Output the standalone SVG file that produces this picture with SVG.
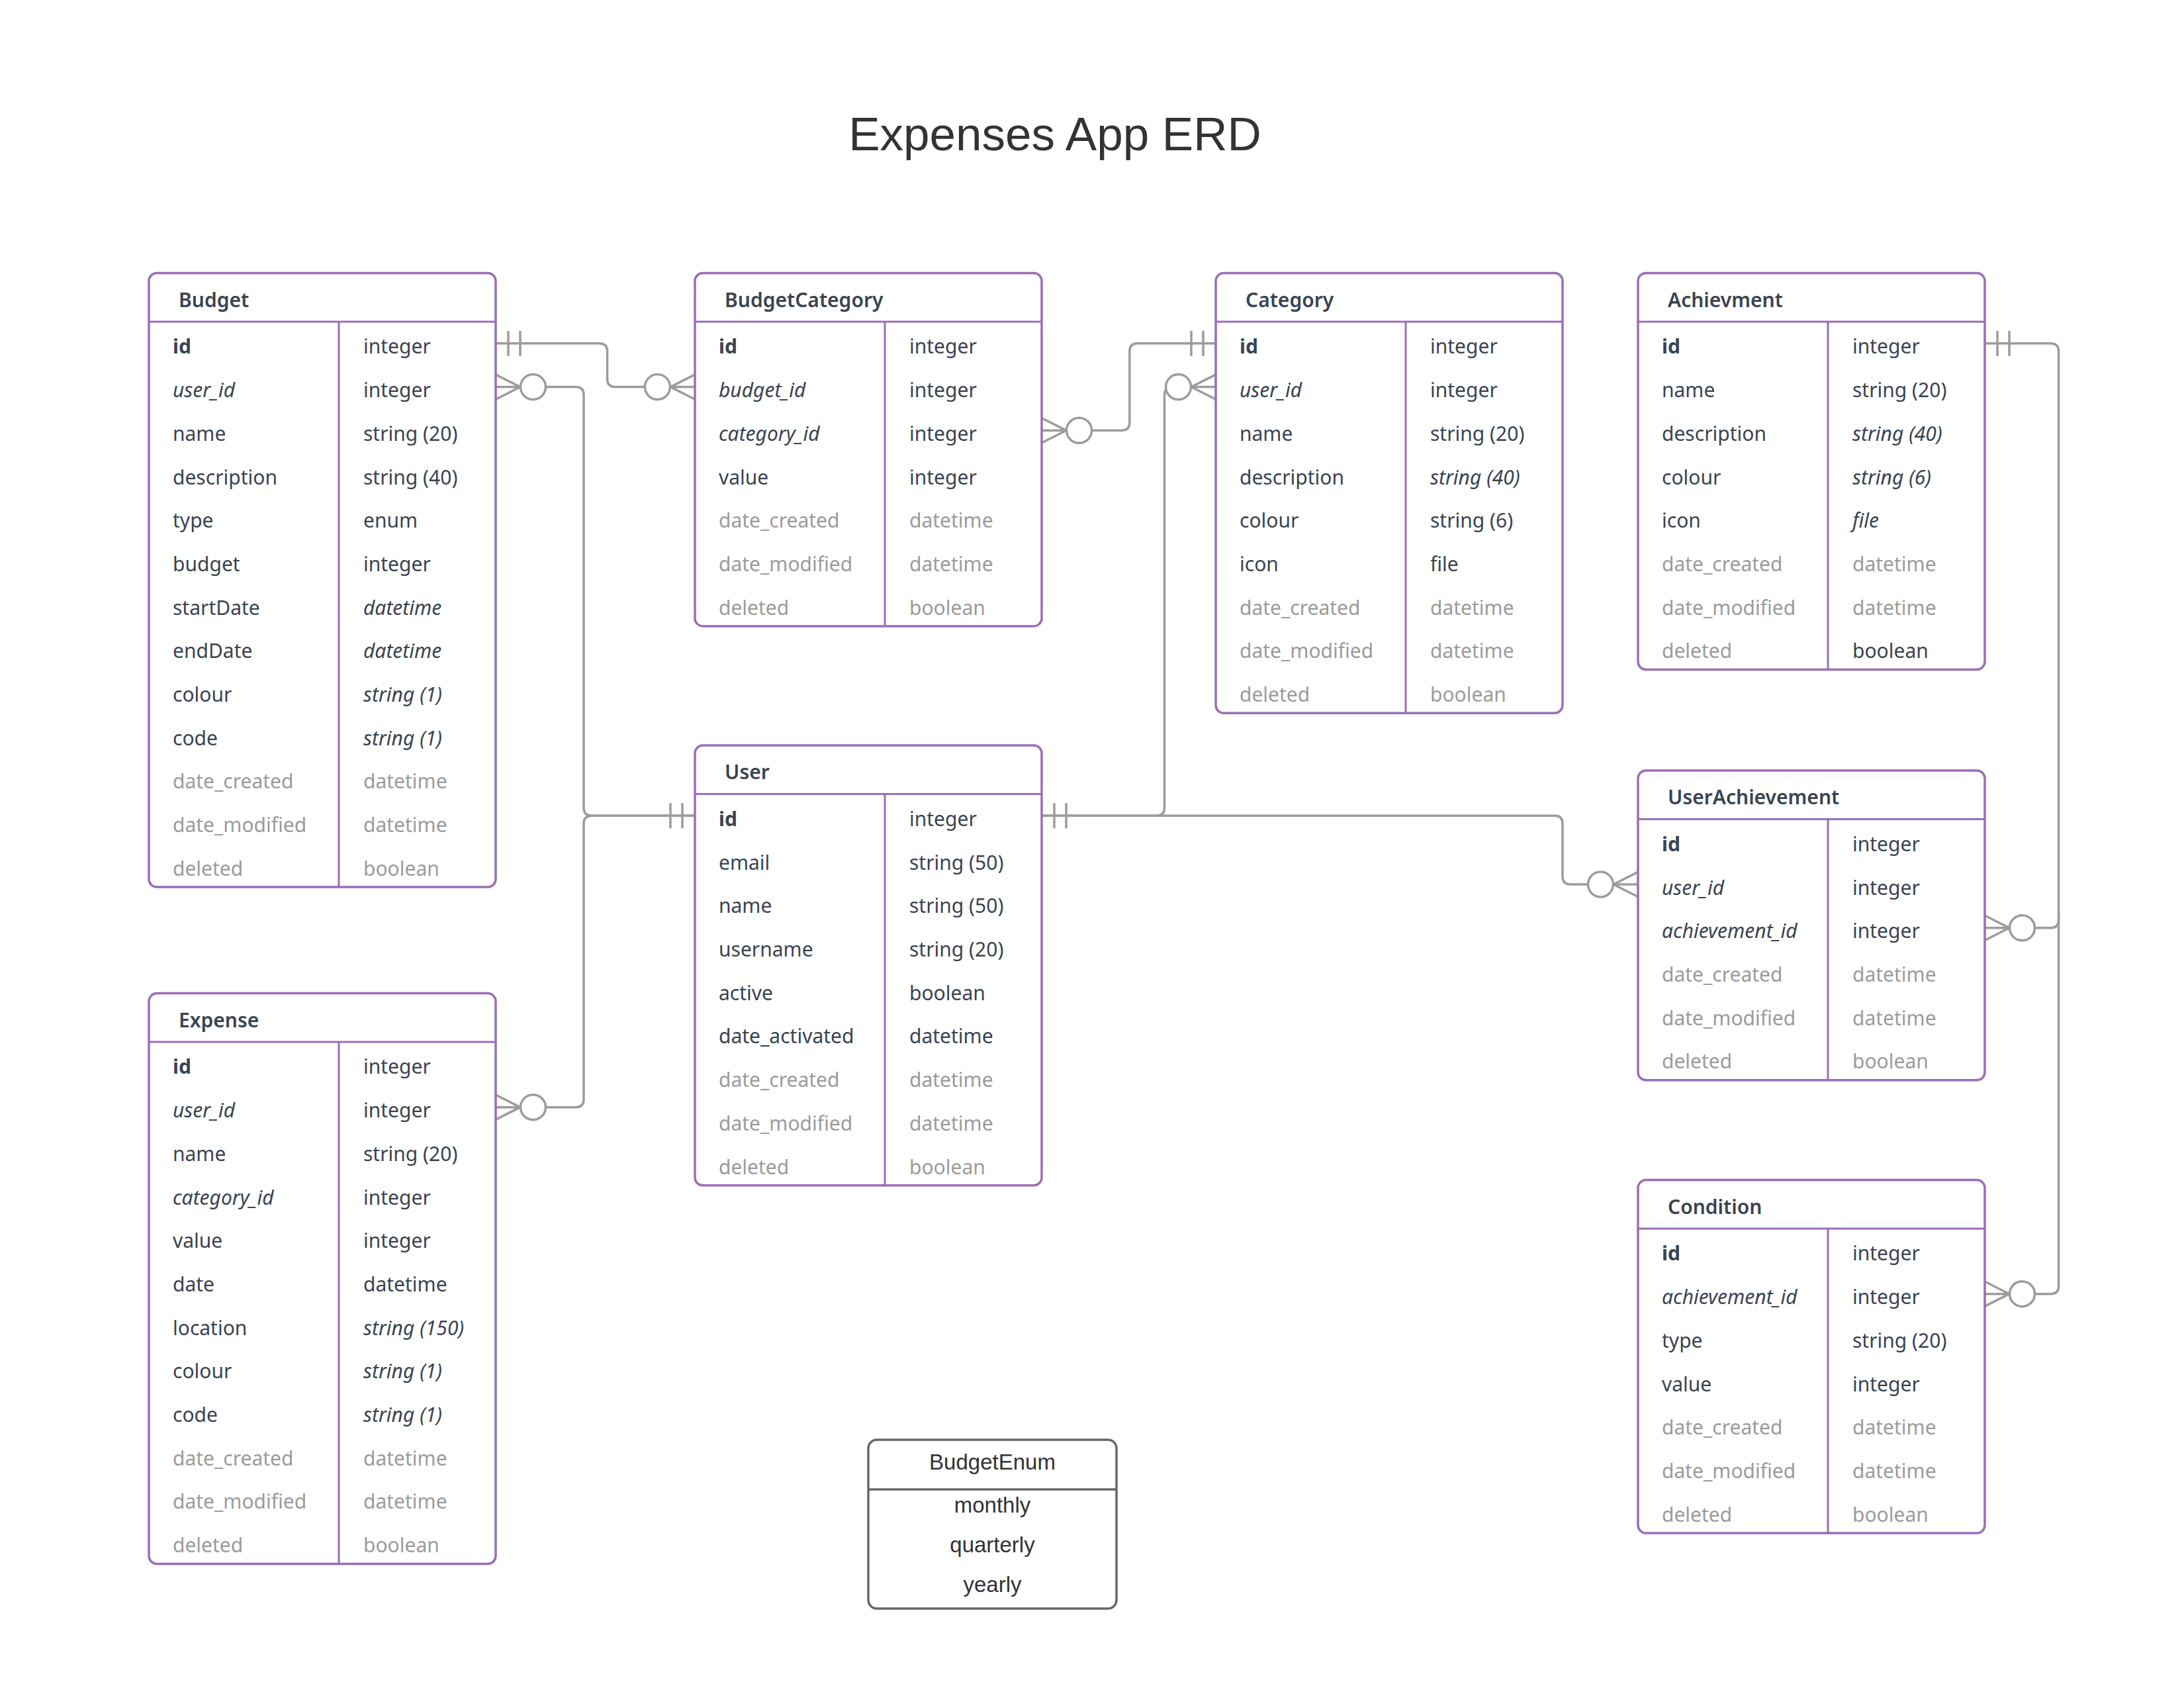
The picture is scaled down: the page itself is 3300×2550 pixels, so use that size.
<svg xmlns="http://www.w3.org/2000/svg" xmlns:xlink="http://www.w3.org/1999/xlink" width="3300" height="2550" viewBox="0 0 3300 2550">
  <style>
    .box { fill: #ffffff; stroke: #9a6eb6; stroke-width: 3.5; }
    .sep { stroke: #9a6eb6; stroke-width: 3; }
    .hd { font-family: "Noto Sans", "Open Sans", sans-serif; font-size: 30px; font-weight: 600; fill: #3a4350; }
    .f { font-family: "Noto Sans", "Open Sans", sans-serif; font-size: 30px; fill: #3a4350; }
    .b { font-weight: bold; }
    .i { font-style: italic; }
    .g { fill: #9b9b9b; }
    .conn { fill: none; stroke: #9c9c9c; stroke-width: 3.5; }
    .end { fill: #ffffff; stroke: #9c9c9c; stroke-width: 3.5; }
    .title { font-family: "Liberation Sans", Arial, sans-serif; font-size: 71px; fill: #333333; }
    .enum { fill: #ffffff; stroke: #686868; stroke-width: 3.5; }
    .et { font-family: "Liberation Sans", Arial, sans-serif; font-size: 33px; fill: #333333; }
  </style>
  <defs>
    <!-- crow's-foot ends, drawn for a box edge at x=0 with the line leaving towards +x -->
    <g id="one">
      <line class="end" x1="19" y1="-19" x2="19" y2="19"/>
      <line class="end" x1="37" y1="-19" x2="37" y2="19"/>
    </g>
    <g id="zeroMany">
      <path class="end" d="M0,-18.7 L37,0 L0,18.7 M0,0 H37"/>
      <circle class="end" cx="56.5" cy="0" r="19"/>
    </g>
  </defs>

  <rect width="3300" height="2550" fill="#ffffff"/>

  <text class="title" x="1594" y="227" text-anchor="middle">Expenses App ERD</text>

  <!-- relationships -->
  <g id="connectors">
    <!-- Budget.id -> BudgetCategory.budget_id -->
    <path class="conn" d="M749,518.85 H905.6 Q917.6,518.85 917.6,530.85 V572.55 Q917.6,584.55 929.6,584.55 H1050"/>
    <use xlink:href="#one" transform="translate(749,518.85)"/>
    <use xlink:href="#zeroMany" transform="translate(1050,584.55) scale(-1,1)"/>

    <!-- User.id -> Budget.user_id -->
    <path class="conn" d="M749,584.55 H870 Q882,584.55 882,596.55 V1220.35 Q882,1232.35 894,1232.35 H1050"/>
    <use xlink:href="#zeroMany" transform="translate(749,584.55)"/>
    <!-- User.id -> Expense.user_id -->
    <path class="conn" d="M749,1672.65 H870 Q882,1672.65 882,1660.65 V1244.35 Q882,1232.35 894,1232.35 H1050"/>
    <use xlink:href="#zeroMany" transform="translate(749,1672.65)"/>
    <use xlink:href="#one" transform="translate(1050,1232.35) scale(-1,1)"/>

    <!-- User.id -> Category.user_id -->
    <path class="conn" d="M1574,1232.35 H1747.5 Q1759.5,1232.35 1759.5,1220.35 V596.55 Q1759.5,584.55 1771.5,584.55 H1837"/>
    <use xlink:href="#one" transform="translate(1574,1232.35)"/>
    <use xlink:href="#zeroMany" transform="translate(1837,584.55) scale(-1,1)"/>

    <!-- User.id -> UserAchievement.user_id -->
    <path class="conn" d="M1574,1232.35 H2349 Q2361,1232.35 2361,1244.35 V1324.05 Q2361,1336.05 2373,1336.05 H2475"/>
    <use xlink:href="#zeroMany" transform="translate(2475,1336.05) scale(-1,1)"/>

    <!-- Category.id -> BudgetCategory.category_id -->
    <path class="conn" d="M1837,518.85 H1718.8 Q1706.8,518.85 1706.8,530.85 V638.25 Q1706.8,650.25 1694.8,650.25 H1574"/>
    <use xlink:href="#one" transform="translate(1837,518.85) scale(-1,1)"/>
    <use xlink:href="#zeroMany" transform="translate(1574,650.25)"/>

    <!-- Achievment.id -> UserAchievement.achievement_id / Condition.achievement_id -->
    <path class="conn" d="M2999,518.85 H3098.6 Q3110.6,518.85 3110.6,530.85 V1389.75 Q3110.6,1401.75 3098.6,1401.75 H2999"/>
    <path class="conn" d="M3110.6,1380 V1942.65 Q3110.6,1954.65 3098.6,1954.65 H2999"/>
    <use xlink:href="#one" transform="translate(2999,518.85)"/>
    <use xlink:href="#zeroMany" transform="translate(2999,1401.75)"/>
    <use xlink:href="#zeroMany" transform="translate(2999,1954.65)"/>
  </g>

  <!-- Budget -->
  <g id="budget" transform="translate(225,412.5)">
    <rect class="box" width="524" height="927.6" rx="12"/>
    <line class="sep" x1="0" y1="73.5" x2="524" y2="73.5"/>
    <line class="sep" x1="287" y1="73.5" x2="287" y2="927.6"/>
    <text class="hd" x="45" y="51">Budget</text>
    <text class="f b" x="36" y="121.9">id</text><text class="f" x="324" y="121.9">integer</text>
    <text class="f i" x="36" y="187.6">user_id</text><text class="f" x="324" y="187.6">integer</text>
    <text class="f" x="36" y="253.3">name</text><text class="f" x="324" y="253.3">string (20)</text>
    <text class="f" x="36" y="319">description</text><text class="f" x="324" y="319">string (40)</text>
    <text class="f" x="36" y="384.7">type</text><text class="f" x="324" y="384.7">enum</text>
    <text class="f" x="36" y="450.4">budget</text><text class="f" x="324" y="450.4">integer</text>
    <text class="f" x="36" y="516.1">startDate</text><text class="f i" x="324" y="516.1">datetime</text>
    <text class="f" x="36" y="581.8">endDate</text><text class="f i" x="324" y="581.8">datetime</text>
    <text class="f" x="36" y="647.5">colour</text><text class="f i" x="324" y="647.5">string (1)</text>
    <text class="f" x="36" y="713.2">code</text><text class="f i" x="324" y="713.2">string (1)</text>
    <text class="f g" x="36" y="778.9">date_created</text><text class="f g" x="324" y="778.9">datetime</text>
    <text class="f g" x="36" y="844.6">date_modified</text><text class="f g" x="324" y="844.6">datetime</text>
    <text class="f g" x="36" y="910.3">deleted</text><text class="f g" x="324" y="910.3">boolean</text>
  </g>

  <!-- BudgetCategory -->
  <g id="budget-category" transform="translate(1050,412.5)">
    <rect class="box" width="524" height="533.4" rx="12"/>
    <line class="sep" x1="0" y1="73.5" x2="524" y2="73.5"/>
    <line class="sep" x1="287" y1="73.5" x2="287" y2="533.4"/>
    <text class="hd" x="45" y="51">BudgetCategory</text>
    <text class="f b" x="36" y="121.9">id</text><text class="f" x="324" y="121.9">integer</text>
    <text class="f i" x="36" y="187.6">budget_id</text><text class="f" x="324" y="187.6">integer</text>
    <text class="f i" x="36" y="253.3">category_id</text><text class="f" x="324" y="253.3">integer</text>
    <text class="f" x="36" y="319">value</text><text class="f" x="324" y="319">integer</text>
    <text class="f g" x="36" y="384.7">date_created</text><text class="f g" x="324" y="384.7">datetime</text>
    <text class="f g" x="36" y="450.4">date_modified</text><text class="f g" x="324" y="450.4">datetime</text>
    <text class="f g" x="36" y="516.1">deleted</text><text class="f g" x="324" y="516.1">boolean</text>
  </g>

  <!-- Category -->
  <g id="category" transform="translate(1837,412.5)">
    <rect class="box" width="524" height="664.8" rx="12"/>
    <line class="sep" x1="0" y1="73.5" x2="524" y2="73.5"/>
    <line class="sep" x1="287" y1="73.5" x2="287" y2="664.8"/>
    <text class="hd" x="45" y="51">Category</text>
    <text class="f b" x="36" y="121.9">id</text><text class="f" x="324" y="121.9">integer</text>
    <text class="f i" x="36" y="187.6">user_id</text><text class="f" x="324" y="187.6">integer</text>
    <text class="f" x="36" y="253.3">name</text><text class="f" x="324" y="253.3">string (20)</text>
    <text class="f" x="36" y="319">description</text><text class="f i" x="324" y="319">string (40)</text>
    <text class="f" x="36" y="384.7">colour</text><text class="f" x="324" y="384.7">string (6)</text>
    <text class="f" x="36" y="450.4">icon</text><text class="f" x="324" y="450.4">file</text>
    <text class="f g" x="36" y="516.1">date_created</text><text class="f g" x="324" y="516.1">datetime</text>
    <text class="f g" x="36" y="581.8">date_modified</text><text class="f g" x="324" y="581.8">datetime</text>
    <text class="f g" x="36" y="647.5">deleted</text><text class="f g" x="324" y="647.5">boolean</text>
  </g>

  <!-- Achievment -->
  <g id="achievment" transform="translate(2475,412.5)">
    <rect class="box" width="524" height="599.1" rx="12"/>
    <line class="sep" x1="0" y1="73.5" x2="524" y2="73.5"/>
    <line class="sep" x1="287" y1="73.5" x2="287" y2="599.1"/>
    <text class="hd" x="45" y="51">Achievment</text>
    <text class="f b" x="36" y="121.9">id</text><text class="f" x="324" y="121.9">integer</text>
    <text class="f" x="36" y="187.6">name</text><text class="f" x="324" y="187.6">string (20)</text>
    <text class="f" x="36" y="253.3">description</text><text class="f i" x="324" y="253.3">string (40)</text>
    <text class="f" x="36" y="319">colour</text><text class="f i" x="324" y="319">string (6)</text>
    <text class="f" x="36" y="384.7">icon</text><text class="f i" x="324" y="384.7">file</text>
    <text class="f g" x="36" y="450.4">date_created</text><text class="f g" x="324" y="450.4">datetime</text>
    <text class="f g" x="36" y="516.1">date_modified</text><text class="f g" x="324" y="516.1">datetime</text>
    <text class="f g" x="36" y="581.8">deleted</text><text class="f" x="324" y="581.8">boolean</text>
  </g>

  <!-- User -->
  <g id="user" transform="translate(1050,1126)">
    <rect class="box" width="524" height="664.8" rx="12"/>
    <line class="sep" x1="0" y1="73.5" x2="524" y2="73.5"/>
    <line class="sep" x1="287" y1="73.5" x2="287" y2="664.8"/>
    <text class="hd" x="45" y="51">User</text>
    <text class="f b" x="36" y="121.9">id</text><text class="f" x="324" y="121.9">integer</text>
    <text class="f" x="36" y="187.6">email</text><text class="f" x="324" y="187.6">string (50)</text>
    <text class="f" x="36" y="253.3">name</text><text class="f" x="324" y="253.3">string (50)</text>
    <text class="f" x="36" y="319">username</text><text class="f" x="324" y="319">string (20)</text>
    <text class="f" x="36" y="384.7">active</text><text class="f" x="324" y="384.7">boolean</text>
    <text class="f" x="36" y="450.4">date_activated</text><text class="f" x="324" y="450.4">datetime</text>
    <text class="f g" x="36" y="516.1">date_created</text><text class="f g" x="324" y="516.1">datetime</text>
    <text class="f g" x="36" y="581.8">date_modified</text><text class="f g" x="324" y="581.8">datetime</text>
    <text class="f g" x="36" y="647.5">deleted</text><text class="f g" x="324" y="647.5">boolean</text>
  </g>

  <!-- UserAchievement -->
  <g id="user-achievement" transform="translate(2475,1164)">
    <rect class="box" width="524" height="467.7" rx="12"/>
    <line class="sep" x1="0" y1="73.5" x2="524" y2="73.5"/>
    <line class="sep" x1="287" y1="73.5" x2="287" y2="467.7"/>
    <text class="hd" x="45" y="51">UserAchievement</text>
    <text class="f b" x="36" y="121.9">id</text><text class="f" x="324" y="121.9">integer</text>
    <text class="f i" x="36" y="187.6">user_id</text><text class="f" x="324" y="187.6">integer</text>
    <text class="f i" x="36" y="253.3">achievement_id</text><text class="f" x="324" y="253.3">integer</text>
    <text class="f g" x="36" y="319">date_created</text><text class="f g" x="324" y="319">datetime</text>
    <text class="f g" x="36" y="384.7">date_modified</text><text class="f g" x="324" y="384.7">datetime</text>
    <text class="f g" x="36" y="450.4">deleted</text><text class="f g" x="324" y="450.4">boolean</text>
  </g>

  <!-- Expense -->
  <g id="expense" transform="translate(225,1500.6)">
    <rect class="box" width="524" height="861.9" rx="12"/>
    <line class="sep" x1="0" y1="73.5" x2="524" y2="73.5"/>
    <line class="sep" x1="287" y1="73.5" x2="287" y2="861.9"/>
    <text class="hd" x="45" y="51">Expense</text>
    <text class="f b" x="36" y="121.9">id</text><text class="f" x="324" y="121.9">integer</text>
    <text class="f i" x="36" y="187.6">user_id</text><text class="f" x="324" y="187.6">integer</text>
    <text class="f" x="36" y="253.3">name</text><text class="f" x="324" y="253.3">string (20)</text>
    <text class="f i" x="36" y="319">category_id</text><text class="f" x="324" y="319">integer</text>
    <text class="f" x="36" y="384.7">value</text><text class="f" x="324" y="384.7">integer</text>
    <text class="f" x="36" y="450.4">date</text><text class="f" x="324" y="450.4">datetime</text>
    <text class="f" x="36" y="516.1">location</text><text class="f i" x="324" y="516.1">string (150)</text>
    <text class="f" x="36" y="581.8">colour</text><text class="f i" x="324" y="581.8">string (1)</text>
    <text class="f" x="36" y="647.5">code</text><text class="f i" x="324" y="647.5">string (1)</text>
    <text class="f g" x="36" y="713.2">date_created</text><text class="f g" x="324" y="713.2">datetime</text>
    <text class="f g" x="36" y="778.9">date_modified</text><text class="f g" x="324" y="778.9">datetime</text>
    <text class="f g" x="36" y="844.6">deleted</text><text class="f g" x="324" y="844.6">boolean</text>
  </g>

  <!-- Condition -->
  <g id="condition" transform="translate(2475,1782.6)">
    <rect class="box" width="524" height="533.4" rx="12"/>
    <line class="sep" x1="0" y1="73.5" x2="524" y2="73.5"/>
    <line class="sep" x1="287" y1="73.5" x2="287" y2="533.4"/>
    <text class="hd" x="45" y="51">Condition</text>
    <text class="f b" x="36" y="121.9">id</text><text class="f" x="324" y="121.9">integer</text>
    <text class="f i" x="36" y="187.6">achievement_id</text><text class="f" x="324" y="187.6">integer</text>
    <text class="f" x="36" y="253.3">type</text><text class="f" x="324" y="253.3">string (20)</text>
    <text class="f" x="36" y="319">value</text><text class="f" x="324" y="319">integer</text>
    <text class="f g" x="36" y="384.7">date_created</text><text class="f g" x="324" y="384.7">datetime</text>
    <text class="f g" x="36" y="450.4">date_modified</text><text class="f g" x="324" y="450.4">datetime</text>
    <text class="f g" x="36" y="516.1">deleted</text><text class="f g" x="324" y="516.1">boolean</text>
  </g>

  <!-- BudgetEnum -->
  <g id="budget-enum" transform="translate(1312,2175)">
    <rect class="enum" width="375" height="255" rx="13"/>
    <line class="enum" x1="0" y1="75" x2="375" y2="75"/>
    <text class="et" x="187.5" y="45" text-anchor="middle">BudgetEnum</text>
    <text class="et" x="187.5" y="110" text-anchor="middle">monthly</text>
    <text class="et" x="187.5" y="170" text-anchor="middle">quarterly</text>
    <text class="et" x="187.5" y="230" text-anchor="middle">yearly</text>
  </g>
</svg>
